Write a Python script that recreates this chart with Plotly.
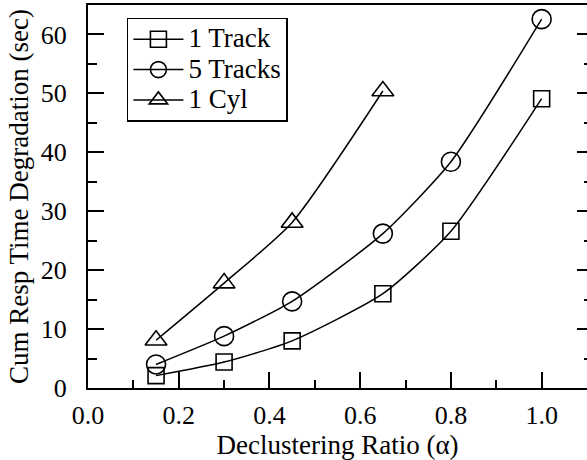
import plotly.graph_objects as go

x_vals = [0.15, 0.3, 0.45, 0.65, 0.8, 1.0]
track1 = [2.1, 4.4, 8.0, 16.0, 26.6, 49.1]
tracks5 = [4.0, 8.8, 14.7, 26.2, 38.4, 62.6]
x_cyl = [0.15, 0.3, 0.45, 0.65]
cyl1 = [8.1, 17.8, 28.1, 50.4]
series_names = ["1 Track", "5 Tracks", "1 Cyl"]

FONT = "Liberation Serif, Times New Roman, Times, serif"
TICK_FS = 26
fig = go.Figure()
common = dict(mode="lines+markers", line=dict(color="black", width=1.5, shape="spline", smoothing=0.6))
fig.add_trace(go.Scatter(x=x_vals, y=track1, name='<span style="font-size:27px">%s</span>' % series_names[0],
                         marker=dict(symbol="square-open", size=16, color="black", line=dict(width=1.6)), **common))
fig.add_trace(go.Scatter(x=x_vals, y=tracks5, name='<span style="font-size:27px">%s</span>' % series_names[1],
                         marker=dict(symbol="circle-open", size=19, color="black", line=dict(width=1.6)), **common))
fig.add_trace(go.Scatter(x=x_cyl, y=cyl1, name='<span style="font-size:27px">%s</span>' % series_names[2],
                         marker=dict(symbol="triangle-up-open", size=19, color="black", line=dict(width=1.6)), **common))
# invisible trace to drive right-side tick axis
fig.add_trace(go.Scatter(x=[None], y=[None], yaxis="y2", showlegend=False, hoverinfo="skip"))

fig.update_layout(
    width=587, height=460,
    margin=dict(l=88, r=0, t=5, b=72),
    paper_bgcolor="white", plot_bgcolor="white",
    font=dict(family=FONT, size=TICK_FS, color="black"),
    showlegend=True,
    legend=dict(x=0.078, y=0.967, xanchor="left", yanchor="top",
                bordercolor="black", borderwidth=1.5, bgcolor="white",
                font=dict(family=FONT, size=21), itemwidth=50, tracegroupgap=0,
                itemsizing="trace"),
    xaxis=dict(range=[0, 1.1], tickvals=[0, 0.2, 0.4, 0.6, 0.8, 1.0],
               ticktext=["0.0", "0.2", "0.4", "0.6", "0.8", "1.0"],
               ticks="inside", ticklen=16, tickwidth=1.5, tickcolor="black",
               minor=dict(dtick=0.1, tick0=0, ticks="inside", ticklen=8, tickwidth=1.5, tickcolor="black"),
               showline=True, linecolor="black", linewidth=2, mirror=True,
               showgrid=False, zeroline=False, ticklabelstandoff=3,
               title=dict(text="Declustering Ratio (α)", font=dict(family=FONT, size=27), standoff=9)),
    yaxis=dict(range=[0, 65], tickvals=[0, 10, 20, 30, 40, 50, 60],
               ticks="inside", ticklen=16, tickwidth=1.5, tickcolor="black",
               minor=dict(dtick=5, tick0=0, ticks="inside", ticklen=9, tickwidth=1.5, tickcolor="black"),
               showline=True, linecolor="black", linewidth=2,
               showgrid=False, zeroline=False, ticklabelstandoff=14,
               title=dict(text="Cum Resp Time Degradation (sec)", font=dict(family=FONT, size=27), standoff=4)),
    yaxis2=dict(range=[0, 65], overlaying="y", side="right", tickvals=[0, 10, 20, 30, 40, 50, 60],
                showticklabels=False, ticks="inside", ticklen=10, tickwidth=1.5, tickcolor="black",
                minor=dict(dtick=5, tick0=0, ticks="inside", ticklen=3, tickwidth=1.5, tickcolor="black"),
                showline=False, showgrid=False, zeroline=False),
)

fig.write_html("out.html")
